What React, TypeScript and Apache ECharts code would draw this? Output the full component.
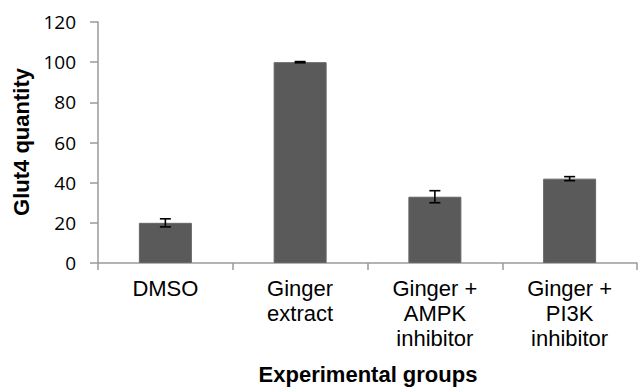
import React, { useEffect, useRef } from "react";
import * as echarts from "echarts";

const categories = ["DMSO", "Ginger\nextract", "Ginger +\nAMPK\ninhibitor", "Ginger +\nPI3K\ninhibitor"];
const means = [20, 100, 33, 42];
const errors = [2, 0.3, 3, 1];
const yTicks = { min: 0, max: 120, interval: 20 };

export default function App() {
  const ref = useRef<HTMLDivElement>(null);
  useEffect(() => {
    const chart = echarts.init(ref.current!, null, { renderer: "svg" });
    const errData = means.map((m, i) => [i, m - errors[i], m + errors[i]]);
    chart.setOption({
      animation: false,
      backgroundColor: "#ffffff",
      grid: { left: 98, right: 1, top: 22, bottom: 124, containLabel: false },
      xAxis: {
        type: "category",
        data: categories,
        axisLine: { lineStyle: { color: "#9a9a9a", width: 1.5 } },
        axisTick: { show: true, length: 7, lineStyle: { color: "#9a9a9a", width: 1.5 } },
        axisLabel: {
          color: "#000",
          fontFamily: "Liberation Sans",
          fontSize: 22,
          lineHeight: 25,
          margin: 13,
          interval: 0,
        },
      },
      yAxis: {
        type: "value",
        min: yTicks.min,
        max: yTicks.max,
        interval: yTicks.interval,
        splitLine: { show: false },
        axisLine: { show: true, lineStyle: { color: "#9a9a9a", width: 1.5 } },
        axisTick: { show: true, length: 8, lineStyle: { color: "#9a9a9a", width: 1.5 } },
        axisLabel: { color: "#000", fontFamily: "Open Sans", fontSize: 19, margin: 22 },
      },
      graphic: [
        {
          type: "text",
          x: 368,
          y: 374,
          style: {
            text: "Experimental groups",
            font: "bold 22px 'Liberation Sans'",
            fill: "#000",
            align: "center",
            verticalAlign: "middle",
          },
        },
        {
          type: "text",
          x: 21,
          y: 142,
          rotation: Math.PI / 2,
          style: {
            text: "Glut4 quantity",
            font: "bold 22px 'Liberation Sans'",
            fill: "#000",
            align: "center",
            verticalAlign: "middle",
          },
        },
      ],
      series: [
        {
          type: "bar",
          data: means,
          barWidth: 53,
          itemStyle: { color: "#5a5a5a", borderColor: "#666", borderWidth: 1 },
          silent: true,
        },
        {
          type: "custom",
          data: errData,
          silent: true,
          z: 10,
          renderItem: (params: any, api: any) => {
            const x = api.value(0);
            const lo = api.coord([x, api.value(1)]);
            const hi = api.coord([x, api.value(2)]);
            const hw = 5.5;
            const style = { stroke: "#000", lineWidth: 1.6 };
            return {
              type: "group",
              children: [
                { type: "line", shape: { x1: lo[0], y1: lo[1], x2: hi[0], y2: hi[1] }, style },
                { type: "line", shape: { x1: lo[0] - hw, y1: lo[1], x2: lo[0] + hw, y2: lo[1] }, style },
                { type: "line", shape: { x1: hi[0] - hw, y1: hi[1], x2: hi[0] + hw, y2: hi[1] }, style },
              ],
            };
          },
        },
      ],
    });
    return () => chart.dispose();
  }, []);
  return <div ref={ref} style={{ width: 638, height: 387, position: "absolute", left: 0, top: 0 }} />;
}
